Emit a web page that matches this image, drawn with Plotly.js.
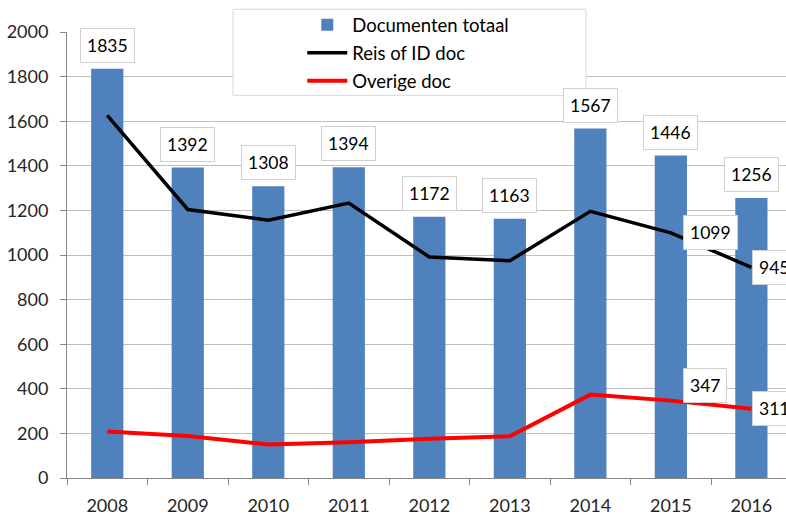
<!DOCTYPE html>
<html>
<head>
<meta charset="utf-8">
<script src="https://cdn.plot.ly/plotly-3.0.1.min.js"></script>
<style>html,body{margin:0;padding:0;background:#fff;}#chart{width:786px;height:516px;}</style>
</head>
<body>
<div id="chart"></div>
<script>
const years = ['2008','2009','2010','2011','2012','2013','2014','2015','2016'];
const totaal = [1835,1392,1308,1394,1172,1163,1567,1446,1256];
const reisID = [1626,1204,1156,1233,991,974,1196,1099,945];
const overige = [208,188,150,160,176,187,374,347,311];
const seriesNames = ['Documenten totaal','Reis of ID doc','Overige doc'];

const FONT = 'Lato, "Open Sans", sans-serif';
const traces = [
  {type:'bar', x:years, y:totaal, name:seriesNames[0], marker:{color:'#4F81BD'}, width:0.4, legendgroup:'a', hoverinfo:'skip'},
  {type:'scatter', mode:'lines', x:years, y:reisID, name:seriesNames[1], line:{color:'#000000', width:3.5}, legendgroup:'b', hoverinfo:'skip'},
  {type:'scatter', mode:'lines', x:years, y:overige, name:seriesNames[2], line:{color:'#FF0000', width:4}, legendgroup:'c', hoverinfo:'skip'}
];

// category axis: annotation x given as category index
function makeLabel(idx, y, txt, xanchor, yanchor, xshift, yshift){
  return {x:idx, y:y, xref:'x', yref:'y', xanchor:xanchor, yanchor:yanchor, xshift:xshift, yshift:yshift, text:txt,
    showarrow:false, font:{family:FONT, size:17.5, color:'#000'}, bgcolor:'#ffffff', bordercolor:'#d0d0d0', borderwidth:1, borderpad:6};
}
const annotations = [];
years.forEach((yr,i)=>{
  annotations.push(makeLabel(i, totaal[i], String(totaal[i]), 'center', 'bottom', 0, 6));
});
const last = years.length-1;
annotations.push(makeLabel(last-1, reisID[last-1], String(reisID[last-1]), 'left', 'middle', 12, 0));
annotations.push(makeLabel(last, reisID[last], String(reisID[last]), 'left', 'middle', 1, 0));
annotations.push(makeLabel(last-1, overige[last-1], String(overige[last-1]), 'left', 'middle', 12, 15));
annotations.push(makeLabel(last, overige[last], String(overige[last]), 'left', 'middle', 1, 0));

const layout = {
  width:786, height:516,
  margin:{l:67, r:0, t:32, b:38},
  paper_bgcolor:'#fff', plot_bgcolor:'#fff',
  font:{family:FONT, size:17, color:'#262626'},
  showlegend:true,
  legend:{x:0.3272, xanchor:'left', y:1.058, yanchor:'top', bgcolor:'rgba(0,0,0,0)', borderwidth:0,
          font:{family:FONT, size:18.5, color:'#000'}, itemwidth:40, traceorder:'grouped', tracegroupgap:1},
  xaxis:{type:'category', range:[-0.5, 8.43], showgrid:false, showline:true, linecolor:'#868686', linewidth:1,
         ticks:'outside', tickson:'boundaries', ticklen:6, tickcolor:'#868686', ticklabelstandoff:11,
         tickfont:{family:FONT, size:18, color:'#262626'}, fixedrange:true},
  yaxis:{range:[0,2000], dtick:200, showgrid:true, gridcolor:'#bfbfbf', gridwidth:1, showline:true, linecolor:'#868686', linewidth:1,
         ticks:'outside', ticklen:6, tickcolor:'#868686', ticklabelstandoff:8, zeroline:false, tickfont:{family:FONT, size:18, color:'#262626'}, fixedrange:true},
  bargap:0.6,
  shapes:[{type:'rect', xref:'paper', yref:'paper', x0:0.2309, x1:0.7218, y0:0.858, y1:1.051, fillcolor:'#ffffff', line:{color:'#d9d9d9', width:1}, layer:'above'}],
  annotations:annotations
};
Plotly.newPlot('chart', traces, layout, {displayModeBar:false, staticPlot:true});
</script>
</body>
</html>
